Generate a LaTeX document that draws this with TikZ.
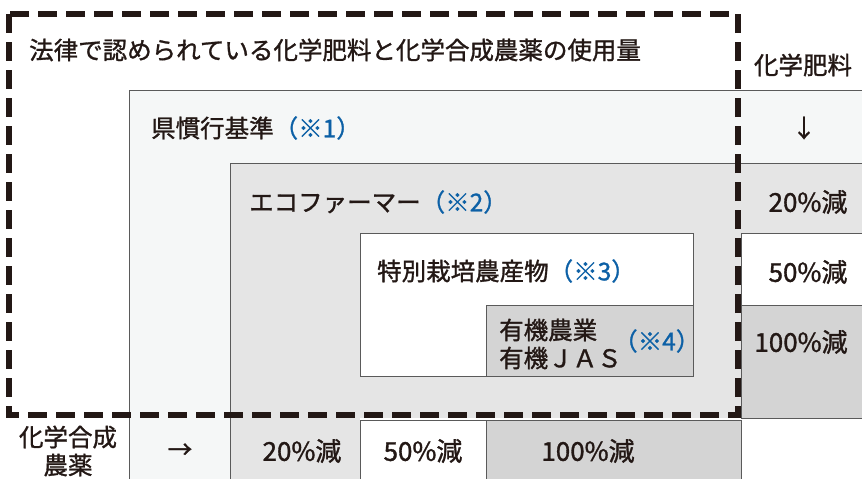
\documentclass[tikz,border=0pt]{standalone}
\usepackage{fontspec}
\setmainfont{Noto Sans CJK JP}[FakeBold=1.2]
\definecolor{inkblk}{HTML}{231815}
\definecolor{noteblue}{RGB}{12,96,166}
\definecolor{tintA}{HTML}{F5F7F7}
\definecolor{tintB}{HTML}{E5E5E5}
\definecolor{tintC}{HTML}{D4D4D4}
\definecolor{rulegray}{HTML}{5A5A5A}

\begin{document}
\begin{tikzpicture}[x=1pt,y=-1pt,
  txt/.style={inner sep=0pt,text=inkblk,font=\fontsize{24.5}{28}\selectfont},
  lbl/.style={txt,anchor=west},
  num/.style={txt,font=\fontsize{26}{28}\selectfont},
  note/.style={text=noteblue},
  cell/.style={draw=rulegray,line width=0.9pt},
  legal/.style={draw=inkblk,line width=5.5pt,dash pattern=on 19pt off 9pt}]

  \useasboundingbox (0,0) rectangle (862,479);

  \fill[tintA] (129,90) rectangle (862,418);
  \fill[tintA] (129,418) rectangle (230,479);
  \fill[tintB] (230,163) rectangle (741,418);
  \fill[tintB] (230,418) rectangle (360,479);
  \fill[tintB] (741,163) rectangle (862,233);
  \fill[white] (741,233) rectangle (862,305);
  \fill[tintC] (741,305) rectangle (862,418);
  \fill[white] (360,233) rectangle (693,376);
  \fill[white] (360,420) rectangle (486,479);
  \fill[tintC] (486,305) rectangle (693,376);
  \fill[tintC] (486,420) rectangle (741,479);

  \draw[cell] (129,479) -- (129,90) -- (862,90);
  \draw[cell] (230,479) -- (230,163) -- (862,163);
  \draw[cell] (360,233) rectangle (693,376);
  \draw[cell] (486,305) rectangle (693,376);
  \draw[cell] (741,233) -- (862,233);
  \draw[cell] (741,305) -- (862,305);
  \draw[cell] (741,233) -- (741,418) -- (862,418);
  \draw[cell] (360,479) -- (360,420) -- (741,420) -- (741,479);
  \draw[cell] (486,420) -- (486,479);

  \draw[legal] (9,14) rectangle (738,415);

  \node[lbl] (title) at (29,50) {法律で認められている化学肥料と化学合成農薬の使用量};
  \node[txt] (fert) at (803,65) {化学肥料};
  \node[lbl] (pref) at (151,128) {県慣行基準\textcolor{noteblue}{（※1）}};
  \node[txt] (fdown) at (804,128) {↓};
  \node[lbl] (eco) at (249,202) {エコファーマー\textcolor{noteblue}{（※2）}};
  \node[num] (fA) at (808,202) {20\%減};
  \node[lbl] (spec) at (377,271) {特別栽培農産物\textcolor{noteblue}{（※3）}};
  \node[num] (fB) at (808,272) {50\%減};
  \node[lbl,align=left] (org) at (499,344) {有機農業\\有機ＪＡＳ};
  \node[lbl,note] (orgn) at (613,341) {（※4）};
  \node[num] (fC) at (801,342) {100\%減};
  \node[txt,align=center] (pest) at (68,451) {化学合成\\農薬};
  \node[txt] (pright) at (180,451) {→};
  \node[num] (pA) at (302,451) {20\%減};
  \node[num] (pB) at (423,451) {50\%減};
  \node[num] (pC) at (588,451) {100\%減};
\end{tikzpicture}
\end{document}
